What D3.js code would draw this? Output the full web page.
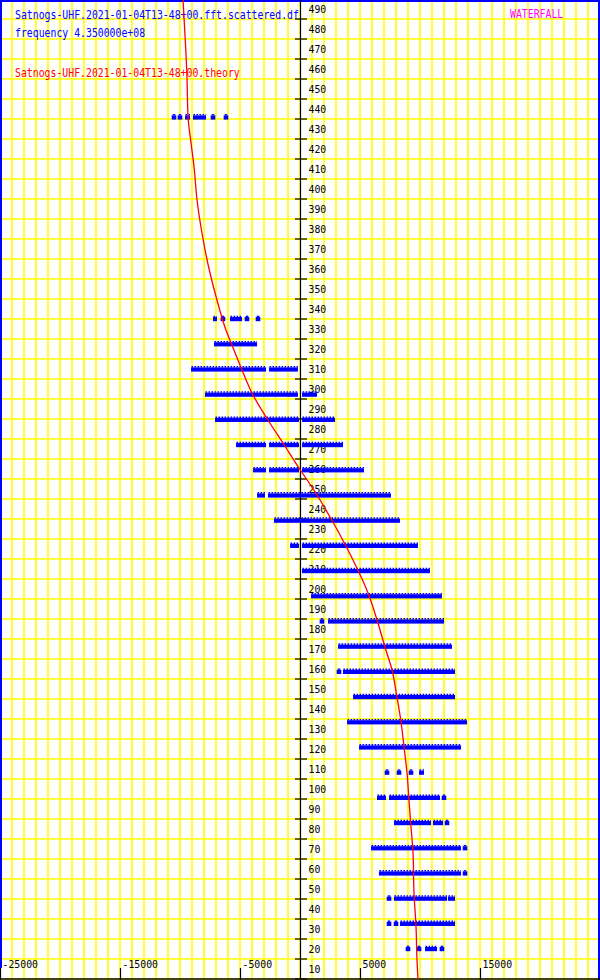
<!DOCTYPE html>
<html>
<head>
<meta charset="utf-8">
<script src="https://cdn.jsdelivr.net/npm/d3@7"></script>
<style>
html,body{margin:0;padding:0;background:#fff;}
svg{display:block;}
</style>
</head>
<body>
<svg id="chart" width="600" height="980"></svg>
<script>
// ---- data ----
const xTicks = [-25000, -15000, -5000, 5000, 15000, 25000];
const yTicks = d3.range(10, 491, 10);
const rowTimes = [441.0, 340.2, 327.6, 315.0, 302.4, 289.8, 277.2, 264.6, 252.0, 239.4, 226.8, 214.2,
  201.6, 189.0, 176.4, 163.8, 151.2, 138.6, 126.0, 113.4, 100.8, 88.2, 75.6, 63.0, 50.4, 37.8, 25.2];
// segments of detected points per row: [startHz, endHz] (single points have start == end)
const rowSegments = [
  [[-10500,-10500],[-10000,-10000],[-9580,-9170],[-8920,-7830],[-7250,-7250],[-6170,-6170]],
  [[-7250,-6920],[-6420,-6420],[-5830,-4830],[-4420,-4420],[-3500,-3500]],
  [[-7170,-3580]],
  [[-9080,-2830],[-2580,-170]],
  [[-7920,-170],[170,1420]],
  [[-7080,-80],[170,2920]],
  [[-5330,-2830],[-2580,-80],[170,3580]],
  [[-3920,-2830],[-2580,-80],[170,5330]],
  [[-3580,-2920],[-2670,7580]],
  [[-2170,8330]],
  [[-830,-80],[170,9830]],
  [[170,10830]],
  [[920,11830]],
  [[1830,1830],[2330,12000]],
  [[3170,12670]],
  [[3250,3250],[3580,12920]],
  [[4420,12920]],
  [[3920,13920]],
  [[4920,13420]],
  [[7250,7250],[8250,8250],[9250,9250],[9920,10330]],
  [[6420,7170],[7420,11670],[12000,12000]],
  [[7830,10920],[11080,11920],[12250,12250]],
  [[5920,13420],[13750,13750]],
  [[6580,13420],[13750,13750]],
  [[7420,7420],[7830,12250],[12330,12920]],
  [[7420,7420],[8000,8000],[8330,12920]],
  [[9000,9000],[9920,9920],[10420,11420],[11830,11830]]
];
const theoryTime = [499.5, 461, 441, 428, 416, 399.5, 383, 363, 349.5, 334.5, 327, 314.5, 302, 289.5, 278,
  265.5, 252, 241, 233, 219.5, 203, 189.5, 176, 164.5, 151, 138.5, 126, 113, 99.5, 86, 73, 53, 36, 19.5, 10];
const theoryHz = [-9750, -9420, -9330, -9080, -8830, -8580, -8170, -7500, -6920, -6170, -5670, -4830, -3920, -2670, -1420,
  -80, 1420, 2500, 3250, 4420, 5670, 6420, 7080, 7670, 8080, 8420, 8670, 8920, 9080, 9250, 9420, 9500, 9670, 9750, 9830];
const titleData = "Satnogs-UHF.2021-01-04T13-48+00.fft.scattered.df";
const titleFreq = "frequency 4.350000e+08";
const titleTheory = "Satnogs-UHF.2021-01-04T13-48+00.theory";
const titleMode = "WATERFALL";

// ---- chart ----
const svg = d3.select("#chart");
const W = 600, H = 980;
const x = d3.scaleLinear().domain([-25000, 25000]).range([0, 600]);
const y = d3.scaleLinear().domain([10, 490]).range([979, 19]);
const font = "'DejaVu Sans Mono', 'Liberation Mono', monospace";
const CW = 5.92;

svg.append("rect").attr("width", W).attr("height", H).attr("fill", "#fff");

// grid
const g = svg.append("g");
g.selectAll(".vg").data(d3.range(-25000, 25001, 1000)).join("line")
  .attr("x1", d => x(d)).attr("x2", d => x(d)).attr("y1", 0).attr("y2", 979)
  .attr("stroke", "#ffff00").attr("stroke-width", 1.6);
g.selectAll(".hg").data(yTicks).join("line")
  .attr("x1", 0).attr("x2", W).attr("y1", d => y(d)).attr("y2", d => y(d))
  .attr("stroke", "#ffff00").attr("stroke-width", 1.6);

// border
svg.append("line").attr("x1", 1).attr("x2", 1).attr("y1", 0).attr("y2", 968).attr("stroke", "#0000ff").attr("stroke-width", 2);
svg.append("line").attr("x1", 0).attr("x2", W).attr("y1", 1).attr("y2", 1).attr("stroke", "#0000ff").attr("stroke-width", 2);
svg.append("line").attr("x1", 599).attr("x2", 599).attr("y1", 0).attr("y2", 980).attr("stroke", "#0000ff").attr("stroke-width", 2);

// text helper: monospace glyphs squeezed horizontally to the reference's 5.92 px pitch
const FS = 11;
const natural = FS * 0.602;
function mono(sel, str, px, py, col, fs) {
  const f = fs || FS;
  const k = CW / (f * 0.602);
  return sel.append("text")
    .attr("transform", `translate(${px},${py}) scale(${k},1)`)
    .attr("font-family", font).attr("font-size", f)
    .attr("fill", col).text(str);
}

// x axis
svg.append("line").attr("x1", 0).attr("x2", W).attr("y1", 979).attr("y2", 979).attr("stroke", "#000").attr("stroke-width", 1.5);
svg.selectAll(".xt").data(xTicks).join("line")
  .attr("x1", d => x(d) + 0.5).attr("x2", d => x(d) + 0.5).attr("y1", 968).attr("y2", 980)
  .attr("stroke", "#000").attr("stroke-width", 1.2);
xTicks.slice(0, 5).forEach(d => mono(svg, String(d), x(d) + 2.5, 968, "#000"));

// y axis
svg.append("line").attr("x1", 300.5).attr("x2", 300.5).attr("y1", 0).attr("y2", 979).attr("stroke", "#000").attr("stroke-width", 1.2);
svg.selectAll(".yt").data(yTicks).join("line")
  .attr("x1", 295).attr("x2", 307).attr("y1", d => y(d)).attr("y2", d => y(d))
  .attr("stroke", "#000").attr("stroke-width", 1.2);
yTicks.forEach(d => mono(svg, String(d), 308.5, y(d) - 6, "#000"));

// titles
mono(svg, titleData, 15, 18.5, "#0000ff", 11.5);
mono(svg, titleFreq, 15, 37, "#0000ff", 11.5);
mono(svg, titleTheory, 15, 77, "#ff0000", 11.5);
mono(svg, titleMode, 510, 18, "#ff00ff", 11.5);

// data rows
const rows = rowTimes.map((t, i) => ({ t, segs: rowSegments[i] }));
const dg = svg.append("g").attr("fill", "#0000ff");
rows.forEach(r => {
  const cy = y(r.t);
  r.segs.forEach(s => {
    const single = s[0] === s[1];
    const a = x(s[0]) - (single ? 2.3 : 0), b = x(s[1]) + (single ? 2.3 : 0);
    dg.append("rect").attr("x", a).attr("y", cy - 1.6).attr("width", b - a).attr("height", 4.2);
    dg.append("line").attr("x1", single ? a + 1 : a + 0.5).attr("x2", single ? b - 1 : b)
      .attr("y1", cy - 2.2).attr("y2", cy - 2.2)
      .attr("stroke", "#0000ff").attr("stroke-width", 1.4)
      .attr("stroke-dasharray", single ? null : "1.6,1.4");
  });
});

// theory curve
const theory = theoryTime.map((t, i) => ({ t, f: theoryHz[i] }));
svg.append("path").datum(theory)
  .attr("d", d3.line().x(d => x(d.f)).y(d => y(d.t)).curve(d3.curveMonotoneY))
  .attr("fill", "none").attr("stroke", "#ff0000").attr("stroke-width", 1.3);
</script>
</body>
</html>
